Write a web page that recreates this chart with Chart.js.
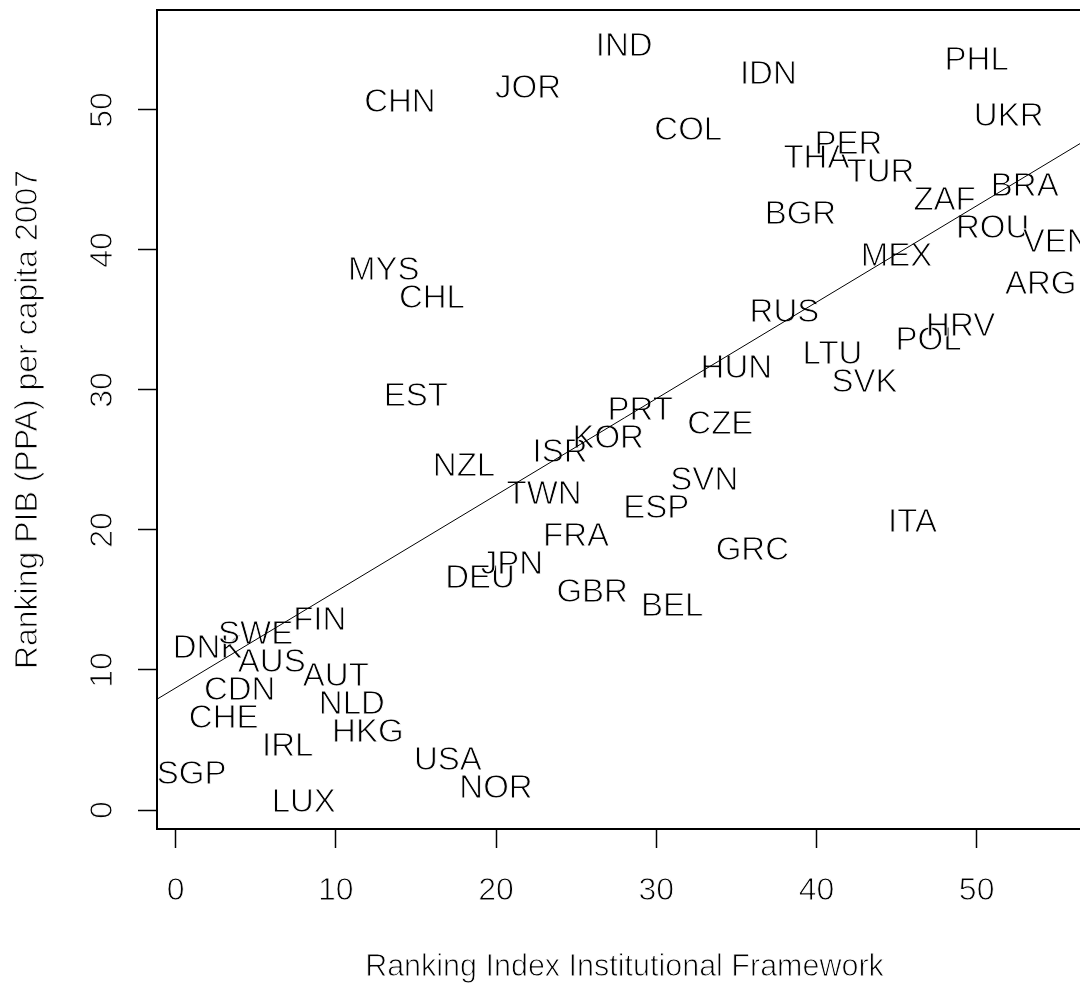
<!DOCTYPE html>
<html>
<head>
<meta charset="utf-8">
<title>Ranking PIB vs Institutional Framework</title>
<script src="https://cdn.jsdelivr.net/npm/chart.js@4.4.1/dist/chart.umd.min.js"></script>
<style>
  html, body { margin: 0; padding: 0; background: #fff; overflow: hidden; width: 1080px; height: 984px; }
  canvas { display: block; }
</style>
</head>
<body>
<canvas id="rankChart" width="1100" height="984"></canvas>
<script>
// country codes, ordered by institutional framework rank
const countries = ['SGP','DNK','CHE','CDN','SWE','AUS','IRL','LUX','FIN','AUT','NLD','HKG','MYS','CHN','EST',
  'CHL','USA','NZL','DEU','NOR','JPN','JOR','TWN','ISR','FRA','GBR','KOR','IND','PRT','ESP','BEL','COL','SVN',
  'CZE','HUN','GRC','IDN','RUS','BGR','THA','LTU','PER','SVK','TUR','MEX','ITA','POL','ZAF','HRV','PHL','ROU',
  'UKR','BRA','ARG','VEN'];
// ranking index institutional framework (x)
const rankInstitutional = [1,2,3,4,5,6,7,8,9,10,11,12,13,14,15,16,17,18,19,20,21,22,23,24,25,26,27,28,29,30,
  31,32,33,34,35,36,37,38,39,40,41,42,43,44,45,46,47,48,49,50,51,52,53,54,55];
// ranking PIB (PPA) per capita 2007 (y)
const rankPib = [3,12,7,9,13,11,5,1,14,10,8,6,39,51,30,37,4,25,17,2,18,52,23,26,20,16,27,55,29,22,15,49,24,
  28,32,19,53,36,43,47,33,48,31,46,40,21,34,44,35,54,42,50,45,38,41];
const xTickValues = [0, 10, 20, 30, 40, 50];
const yTickValues = [0, 10, 20, 30, 40, 50];
const xTitle = 'Ranking Index Institutional Framework';
const yTitle = 'Ranking PIB (PPA) per capita 2007';

const FONT = '"Liberation Sans", Arial, sans-serif';
const X_MIN = -1.16, X_MAX = 57.2;
const Y_MIN = -1.357, Y_MAX = 57.14;

// least squares fit y ~ x (abline(lm(...)))
function fitLine(xs, ys) {
  const n = xs.length;
  const mx = xs.reduce((a, b) => a + b, 0) / n;
  const my = ys.reduce((a, b) => a + b, 0) / n;
  let sxy = 0, sxx = 0;
  for (let i = 0; i < n; i++) {
    sxy += (xs[i] - mx) * (ys[i] - my);
    sxx += (xs[i] - mx) * (xs[i] - mx);
  }
  const b = sxy / sxx;
  return { a: my - b * mx, b: b };
}
const fit = fitLine(rankInstitutional, rankPib);

const points = countries.map((c, i) => ({ x: rankInstitutional[i], y: rankPib[i] }));
const fitPoints = [X_MIN, X_MAX].map(v => ({ x: v, y: fit.a + fit.b * v }));

// thin text: fill, then shave the edges with a white outline
function thinText(ctx, txt, x, y) {
  ctx.fillText(txt, x, y);
  ctx.strokeText(txt, x, y);
}

const labelPlugin = {
  id: 'countryLabels',
  beforeDatasetsDraw(chart) {
    const { ctx, chartArea: area } = chart;
    const xs = chart.scales.x, ys = chart.scales.y;
    ctx.save();
    ctx.fillStyle = '#000';
    ctx.strokeStyle = '#fff';
    ctx.lineWidth = 0.9;
    ctx.lineJoin = 'round';
    ctx.textAlign = 'center';

    // country codes centred on their points
    ctx.font = '33px ' + FONT;
    ctx.textBaseline = 'alphabetic';
    countries.forEach((c, i) => {
      thinText(ctx, c, xs.getPixelForValue(rankInstitutional[i]), ys.getPixelForValue(rankPib[i]) + 16);
    });

    ctx.font = '32px ' + FONT;
    ctx.textBaseline = 'middle';
    // x tick labels
    xTickValues.forEach(v => thinText(ctx, String(v), xs.getPixelForValue(v), xs.top + 62));
    // y tick labels, parallel to the axis
    yTickValues.forEach(v => {
      ctx.save();
      ctx.translate(ys.right - 54, ys.getPixelForValue(v));
      ctx.rotate(-Math.PI / 2);
      thinText(ctx, String(v), 0, 0);
      ctx.restore();
    });

    // axis titles
    ctx.save();
    ctx.translate(28, (area.top + area.bottom) / 2);
    ctx.rotate(-Math.PI / 2);
    thinText(ctx, yTitle, 0, 0);
    ctx.restore();
    ctx.font = '30.5px ' + FONT;
    thinText(ctx, xTitle, (area.left + area.right) / 2, xs.bottom - 16.5);
    ctx.restore();
  },
  afterDatasetsDraw(chart) {
    const { ctx, chartArea: area } = chart;
    // plot box
    ctx.save();
    ctx.strokeStyle = '#000';
    ctx.lineWidth = 2;
    ctx.strokeRect(area.left, area.top, area.right - area.left, area.bottom - area.top);
    ctx.restore();
  }
};

new Chart(document.getElementById('rankChart'), {
  type: 'scatter',
  data: {
    datasets: [
      { data: points, pointRadius: 0, pointHoverRadius: 0 },
      { data: fitPoints, showLine: true, borderColor: '#000', borderWidth: 1, pointRadius: 0, fill: false }
    ]
  },
  options: {
    responsive: false,
    animation: false,
    devicePixelRatio: 1,
    layout: { padding: { top: 10, right: 8, bottom: 0, left: 0 } },
    plugins: { legend: { display: false }, tooltip: { enabled: false } },
    scales: {
      x: {
        type: 'linear',
        min: X_MIN,
        max: X_MAX,
        afterFit(s) { s.height = 155; },
        afterBuildTicks(s) { s.ticks = xTickValues.map(v => ({ value: v })); },
        grid: { drawOnChartArea: false, drawTicks: true, tickLength: 19, tickColor: '#000', tickWidth: 1.5 },
        border: { display: false },
        ticks: { display: false }
      },
      y: {
        type: 'linear',
        min: Y_MIN,
        max: Y_MAX,
        afterFit(s) { s.width = 157; },
        afterBuildTicks(s) { s.ticks = yTickValues.map(v => ({ value: v })); },
        grid: { drawOnChartArea: false, drawTicks: true, tickLength: 19, tickColor: '#000', tickWidth: 1.5 },
        border: { display: false },
        ticks: { display: false }
      }
    }
  },
  plugins: [labelPlugin]
});
</script>
</body>
</html>
